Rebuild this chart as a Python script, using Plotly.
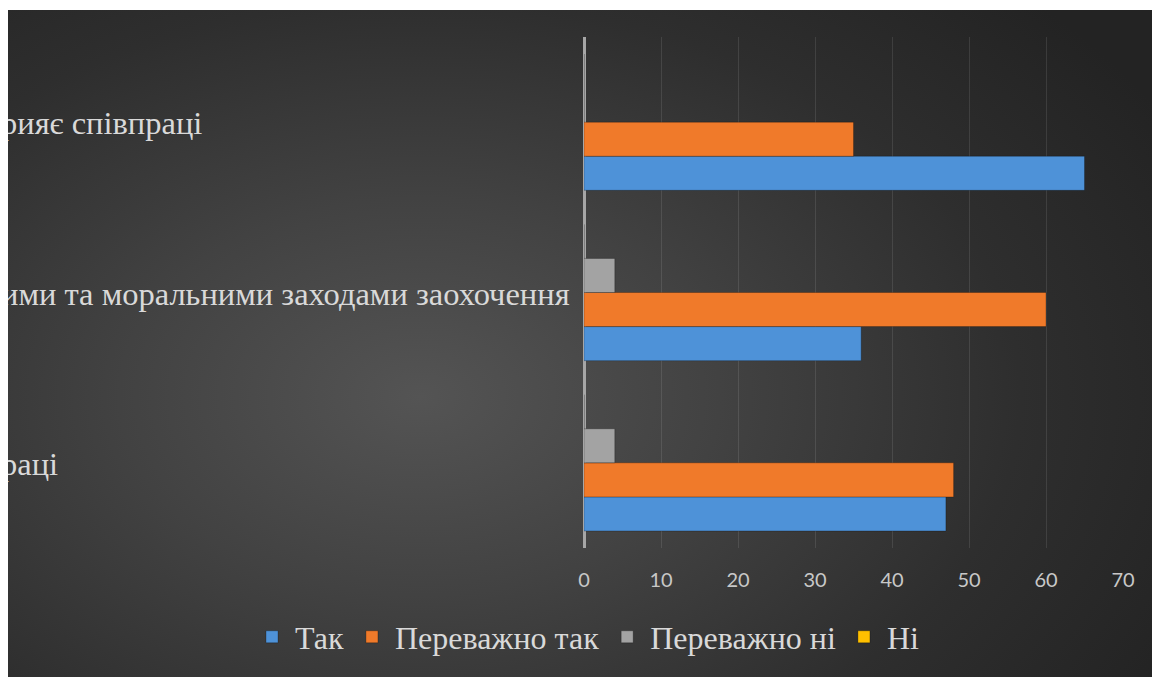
import plotly.graph_objects as go

# categories, bottom to top (labels are cut off at the left edge in the source)
categories = ["раці", "ими та моральними заходами заохочення", "рияє співпраці"]

series_names = ["Так", "Переважно так", "Переважно ні", "Ні"]
tak = [47, 36, 65]
perevazhno_tak = [48, 60, 35]
perevazhno_ni = [4, 4, 0]
ni = [0, 0, 0]

x_ticks = [0, 10, 20, 30, 40, 50, 60, 70]

colors = ["#4e92d8", "#f07a2a", "#a3a3a3", "#ffc000"]
values = [tak, perevazhno_tak, perevazhno_ni, ni]

SERIF = "Liberation Serif"
W, H = 1144, 667
M_L, M_R, M_T, M_B = 576, 29, 27, 129
PLOT_W = W - M_L - M_R
PLOT_H = H - M_T - M_B

fig = go.Figure()
for name, vals, col in zip(series_names, values, colors):
    fig.add_trace(go.Bar(
        y=categories,
        x=vals,
        name=name,
        orientation="h",
        marker=dict(color=col, line=dict(color="rgba(0,0,0,0.25)", width=1)),
        hoverinfo="skip",
    ))

# category labels drawn as annotations so they run off the left edge
for cat in categories:
    fig.add_annotation(
        x=0, y=cat, xref="paper", yref="y",
        xanchor="left", yanchor="middle",
        xshift=-(M_L + 9), yshift=-1,
        text=cat, showarrow=False,
        font=dict(family=SERIF, size=32.5, color="#d9d9d9"),
    )

# legend sits in the margins below and left of the plot area
leg_x = (241 - M_L) / PLOT_W
leg_y = (M_T + PLOT_H - 627) / PLOT_H

fig.update_layout(
    width=W, height=H,
    margin=dict(l=M_L, r=M_R, t=M_T, b=M_B, autoexpand=False),
    paper_bgcolor="rgba(0,0,0,0)",
    plot_bgcolor="rgba(0,0,0,0)",
    barmode="group",
    bargap=0.2,
    bargroupgap=0,
    showlegend=True,
    legend=dict(
        orientation="h",
        x=leg_x, y=leg_y, xanchor="left", yanchor="middle",
        font=dict(family=SERIF, size=32, color="#d9d9d9"),
        bgcolor="rgba(0,0,0,0)",
        itemwidth=36,
    ),
    xaxis=dict(
        range=[0, 70],
        tickvals=x_ticks,
        showgrid=True,
        gridcolor="rgba(255,255,255,0.1)",
        gridwidth=1,
        zeroline=True,
        zerolinecolor="#a6a6a6",
        zerolinewidth=2.5,
        showline=False,
        ticks="",
        ticklabelstandoff=18,
        tickfont=dict(family="Lato", size=20, color="#c8c8c8"),
        fixedrange=True,
    ),
    yaxis=dict(
        showticklabels=False,
        showgrid=False,
        zeroline=False,
        fixedrange=True,
    ),
)

post = (
    "var gd = document.getElementById('{plot_id}');"
    "document.body.style.margin = '0';"
    "document.body.style.padding = '10px 0 0 8px';"
    "document.body.style.overflow = 'hidden';"
    "gd.style.background = 'radial-gradient(ellipse 75% 85% at 36% 58%, "
    "#545454 0%, #424242 35%, #2e2e2e 70%, #232323 100%)';"
)

fig.write_html("out.html", post_script=post, config={"displayModeBar": False})
